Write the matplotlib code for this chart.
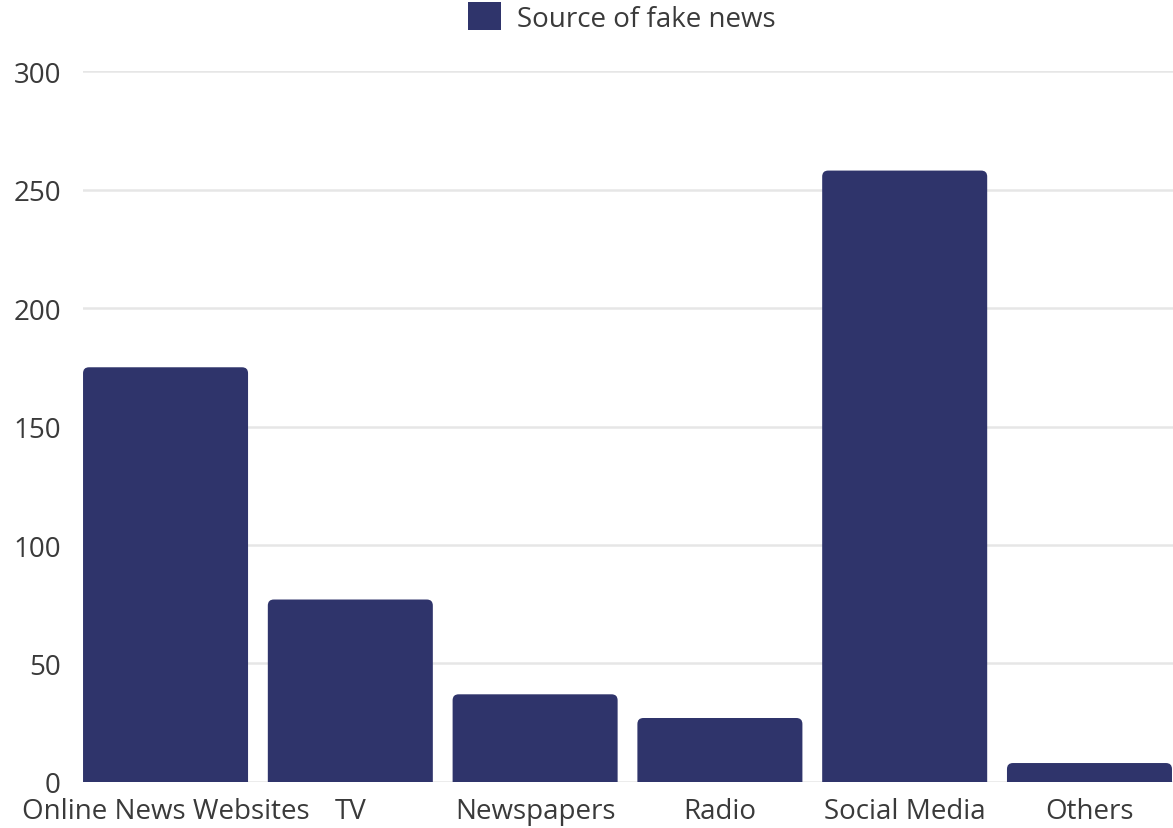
import matplotlib.pyplot as plt
from matplotlib.patches import FancyBboxPatch, Patch

categories = ["Online News Websites", "TV", "Newspapers", "Radio", "Social Media", "Others"]
counts = [175, 77, 37, 27, 258, 8]
y_ticks = [0, 50, 100, 150, 200, 250, 300]
series_name = "Source of fake news"

bar_color = "#2f346b"
text_color = "#3a3a3a"

plt.rcParams['font.family'] = ['Open Sans', 'DejaVu Sans']

fig = plt.figure(figsize=(11.73, 8.29), dpi=100)
ax = fig.add_axes([0.0708, 0.0555, 0.9292, 0.8576])

ax.set_xlim(-0.4464, 5.452)
ax.set_ylim(0, 300)

# px per data unit, used so the corner rounding stays circular on screen
px_x = 184.8
px_y = 711 / 300
width = 0.893
radius = 6 / px_x

for i, v in enumerate(counts):
    box = FancyBboxPatch((i - width / 2 + radius, -10 + radius * px_x / px_y),
                         width - 2 * radius, v + 10 - 2 * radius * px_x / px_y,
                         boxstyle=f"round,pad={radius},rounding_size={radius}",
                         mutation_aspect=px_x / px_y,
                         facecolor=bar_color, edgecolor="none", zorder=3)
    ax.add_patch(box)

ax.set_yticks(y_ticks)
ax.set_yticklabels([str(t) for t in y_ticks])
ax.set_xticks(range(len(categories)))
ax.set_xticklabels(categories)
ax.grid(axis="y", color="#e6e6e6", linewidth=1.8, zorder=0)
ax.tick_params(length=0, labelsize=20, colors=text_color)
ax.tick_params(axis="y", pad=16)
ax.tick_params(axis="x", pad=11)
for s in ax.spines.values():
    s.set_visible(False)

fig.legend(handles=[Patch(facecolor=bar_color, label=series_name)],
           loc="center", bbox_to_anchor=(0.53, 0.978), frameon=False,
           fontsize=20, labelcolor=text_color, handlelength=1.19, handleheight=1.19,
           handletextpad=0.55, borderpad=0)

fig.savefig("out.png", dpi=100)
